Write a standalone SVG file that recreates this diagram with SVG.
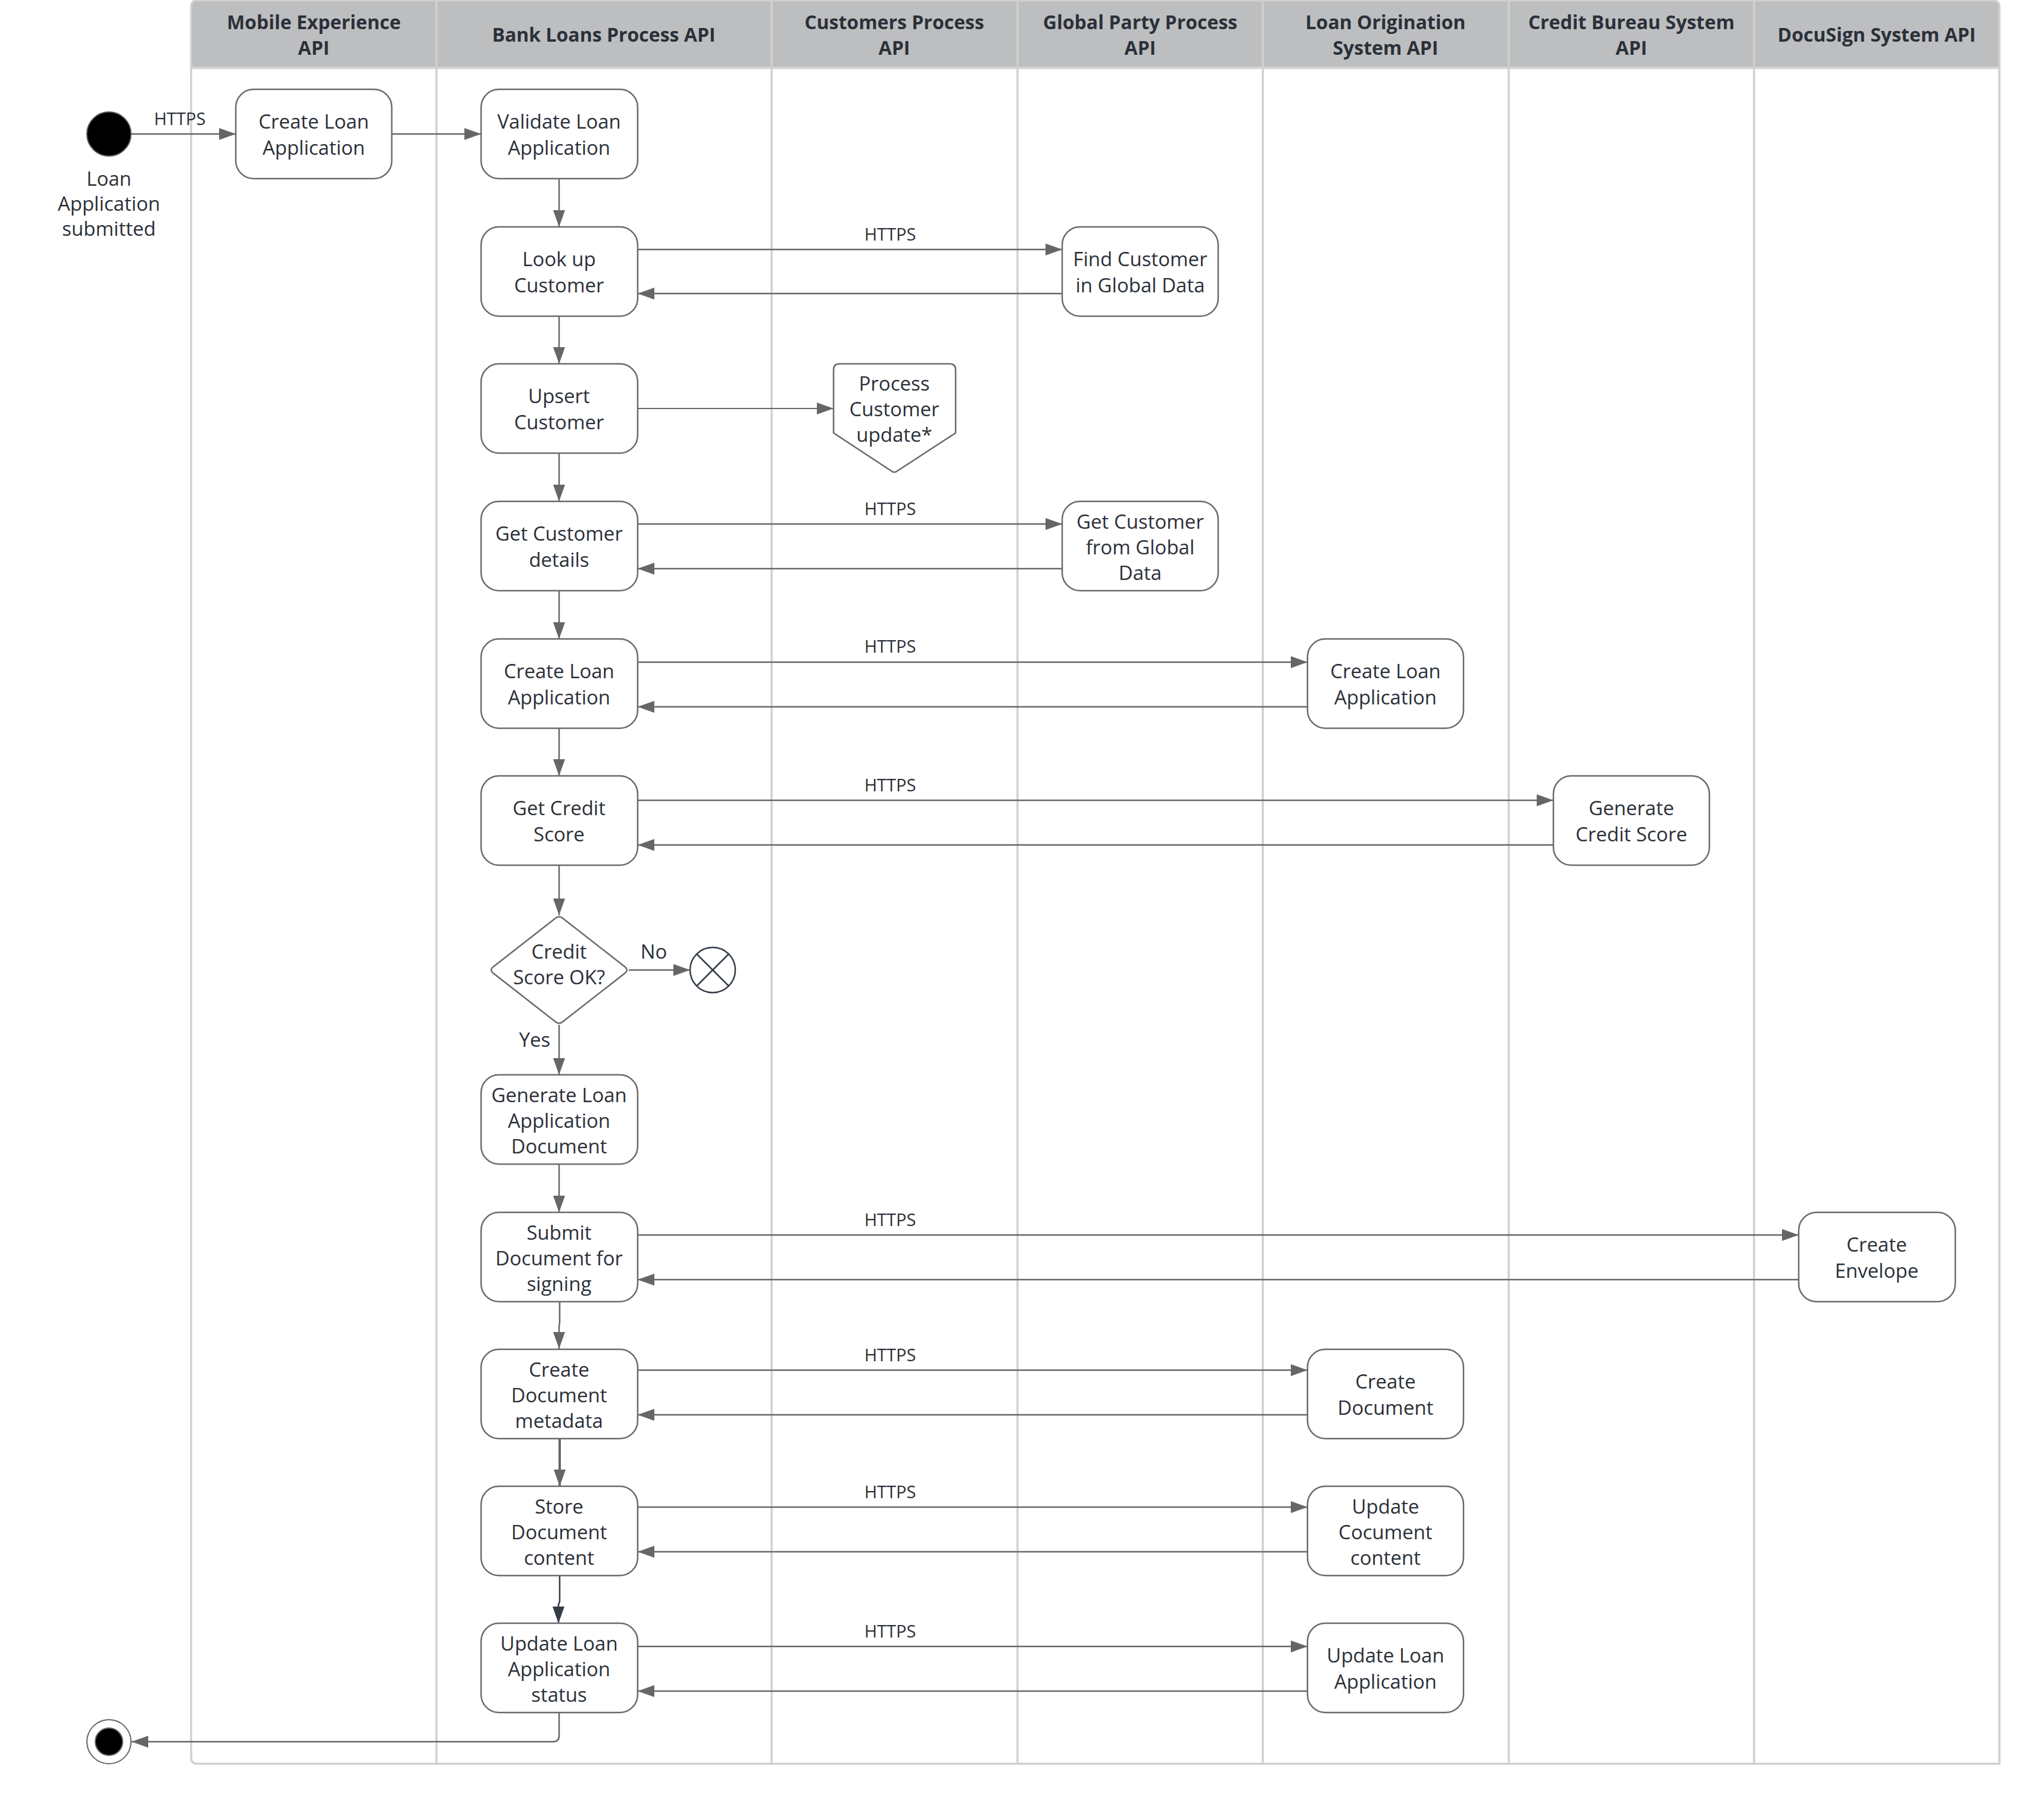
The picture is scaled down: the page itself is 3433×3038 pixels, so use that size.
<svg xmlns="http://www.w3.org/2000/svg" width="3433" height="3038" viewBox="0 0 3433 3038">
<style>
.lane{fill:none;stroke:#d0d0d0;stroke-width:3.5}
.div{stroke:#d0d0d0;stroke-width:3.5}
.hdr{fill:#bdbec0}
.ht{font-family:"Open Sans","Noto Sans",sans-serif;font-weight:700;font-size:32px;fill:#2b3038;text-anchor:middle;dominant-baseline:central}
.node{fill:#fff;stroke:#6a6a6a;stroke-width:2.5}
.t{font-family:"Open Sans","Noto Sans",sans-serif;font-size:33px;fill:#2b3038;text-anchor:middle;dominant-baseline:central}
.lbl{font-family:"Open Sans","Noto Sans",sans-serif;font-size:29px;fill:#2b3038;text-anchor:middle;dominant-baseline:central}
.c{fill:none;stroke:#666;stroke-width:2.5;marker-end:url(#ah)}
.cn{fill:none;stroke:#666;stroke-width:2.5}
</style>
<defs>
<marker id="ah" viewBox="0 0 28 20" refX="28" refY="10" markerWidth="28" markerHeight="20" markerUnits="userSpaceOnUse" orient="auto">
<path d="M0,0 L28,10 L0,20 Z" fill="#666"/>
</marker>
<marker id="ahd" viewBox="0 0 28 20" refX="28" refY="10" markerWidth="28" markerHeight="20" markerUnits="userSpaceOnUse" orient="auto">
<path d="M0,0 L28,10 L0,20 Z" fill="#333c48"/>
</marker>
</defs>
<rect width="3433" height="3038" fill="#fff"/>
<g id="swimlanes">
<path class="hdr" d="M321,114 V11 Q321,1 331,1 H3348 Q3358,1 3358,11 V114 Z"/>
<line x1="321" y1="114" x2="3358" y2="114" stroke="#d4d4d4" stroke-width="4"/>
<line class="div" x1="733" y1="1" x2="733" y2="2962"/>
<line class="div" x1="1296" y1="1" x2="1296" y2="2962"/>
<line class="div" x1="1709" y1="1" x2="1709" y2="2962"/>
<line class="div" x1="2121" y1="1" x2="2121" y2="2962"/>
<line class="div" x1="2534" y1="1" x2="2534" y2="2962"/>
<line class="div" x1="2946" y1="1" x2="2946" y2="2962"/>
<path class="lane" d="M331,1 H3348 Q3358,1 3358,11 V2962 H331 Q321,2962 321,2952 V11 Q321,1 331,1 Z"/>
<text class="ht" x="527" y="36">Mobile Experience</text>
<text class="ht" x="527" y="79">API</text>
<text class="ht" x="1014" y="57">Bank Loans Process API</text>
<text class="ht" x="1502" y="36">Customers Process</text>
<text class="ht" x="1502" y="79">API</text>
<text class="ht" x="1915" y="36">Global Party Process</text>
<text class="ht" x="1915" y="79">API</text>
<text class="ht" x="2327" y="36">Loan Origination</text>
<text class="ht" x="2327" y="79">System API</text>
<text class="ht" x="2740" y="36">Credit Bureau System</text>
<text class="ht" x="2740" y="79">API</text>
<text class="ht" x="3152" y="57">DocuSign System API</text>
</g>
<g id="connectors">
<path class="c" d="M220,225 H396"/>
<text class="lbl" x="302" y="198">HTTPS</text>
<path class="c" d="M658,225 H808"/>
<path class="c" d="M939,300 V381"/>
<path class="c" d="M939,531 V611"/>
<path class="c" d="M939,761 V842"/>
<path class="c" d="M939,992 V1073"/>
<path class="c" d="M939,1223 V1303"/>
<path class="c" d="M939,1453 V1537"/>
<path class="c" d="M939,1721 V1805"/>
<text class="t" x="898" y="1745">Yes</text>
<path class="c" d="M1056,1629 H1159"/>
<text class="t" x="1098" y="1597">No</text>
<path class="c" d="M939,1955 V2036"/>
<path class="c" d="M940,2186 V2220 Q940,2224 939,2226 V2265"/>
<path class="c" d="M940,2416 V2496" style="stroke-width:4"/>
<path d="M940,2646 V2688 Q940,2692 938,2694 V2726" fill="none" stroke="#333c48" stroke-width="2.5" marker-end="url(#ahd)"/>
<path class="c" d="M939,2876 V2915 Q939,2925 929,2925 H221"/>
<path class="c" d="M1071,419 H1784"/>
<path class="c" d="M1784,493 H1071"/>
<text class="lbl" x="1495" y="392">HTTPS</text>
<path class="c" d="M1071,686 H1400" style="stroke-width:2"/>
<path class="c" d="M1071,880 H1784"/>
<path class="c" d="M1784,955 H1071"/>
<text class="lbl" x="1495" y="853">HTTPS</text>
<path class="c" d="M1071,1112 H2196"/>
<path class="c" d="M2196,1187 H1071"/>
<text class="lbl" x="1495" y="1084">HTTPS</text>
<path class="c" d="M1071,1344 H2609"/>
<path class="c" d="M2609,1419 H1071"/>
<text class="lbl" x="1495" y="1317">HTTPS</text>
<path class="c" d="M1071,2074 H3021"/>
<path class="c" d="M3021,2149 H1071"/>
<text class="lbl" x="1495" y="2047">HTTPS</text>
<path class="c" d="M1071,2301 H2196"/>
<path class="c" d="M2196,2376 H1071"/>
<text class="lbl" x="1495" y="2274">HTTPS</text>
<path class="c" d="M1071,2531 H2196"/>
<path class="c" d="M2196,2606 H1071"/>
<text class="lbl" x="1495" y="2504">HTTPS</text>
<path class="c" d="M1071,2765 H2196"/>
<path class="c" d="M2196,2840 H1071"/>
<text class="lbl" x="1495" y="2738">HTTPS</text>
</g>
<g id="start">
<circle cx="183" cy="225" r="37" fill="#000" stroke="#555" stroke-width="2"/>
<text class="t" x="183" y="299">Loan</text>
<text class="t" x="183" y="341">Application</text>
<text class="t" x="183" y="383">submitted</text>
</g>
<g id="mobile-create-loan">
<rect class="node" x="396" y="150" width="262" height="150" rx="30"/>
<text class="t" x="527" y="203">Create Loan</text>
<text class="t" x="527" y="247">Application</text>
</g>
<g id="validate-loan">
<rect class="node" x="808" y="150" width="263" height="150" rx="30"/>
<text class="t" x="939" y="203">Validate Loan</text>
<text class="t" x="939" y="247">Application</text>
</g>
<g id="look-up-customer">
<rect class="node" x="808" y="381" width="263" height="150" rx="30"/>
<text class="t" x="939" y="434">Look up</text>
<text class="t" x="939" y="478">Customer</text>
</g>
<g id="upsert-customer">
<rect class="node" x="808" y="611" width="263" height="150" rx="30"/>
<text class="t" x="939" y="664">Upsert</text>
<text class="t" x="939" y="708">Customer</text>
</g>
<g id="get-customer-details">
<rect class="node" x="808" y="842" width="263" height="150" rx="30"/>
<text class="t" x="939" y="895">Get Customer</text>
<text class="t" x="939" y="939">details</text>
</g>
<g id="bank-create-loan">
<rect class="node" x="808" y="1073" width="263" height="150" rx="30"/>
<text class="t" x="939" y="1126">Create Loan</text>
<text class="t" x="939" y="1170">Application</text>
</g>
<g id="get-credit-score">
<rect class="node" x="808" y="1303" width="263" height="150" rx="30"/>
<text class="t" x="939" y="1356">Get Credit</text>
<text class="t" x="939" y="1400">Score</text>
</g>
<g id="credit-decision">
<path class="node" d="M933,1542 Q939,1537 945,1542 L1050,1624 Q1056,1629 1050,1634 L945,1716 Q939,1721 933,1716 L828,1634 Q822,1629 828,1624 Z"/>
<text class="t" x="939" y="1597">Credit</text>
<text class="t" x="939" y="1640">Score OK?</text>
</g>
<g id="flow-final">
<circle cx="1197" cy="1629" r="38" fill="#fff" stroke="#333c48" stroke-width="2.5"/>
<line x1="1170" y1="1602" x2="1224" y2="1656" stroke="#333c48" stroke-width="2.5"/>
<line x1="1224" y1="1602" x2="1170" y2="1656" stroke="#333c48" stroke-width="2.5"/>
</g>
<g id="generate-document">
<rect class="node" x="808" y="1805" width="263" height="150" rx="30"/>
<text class="t" x="939" y="1838">Generate Loan</text>
<text class="t" x="939" y="1881">Application</text>
<text class="t" x="939" y="1924">Document</text>
</g>
<g id="submit-document">
<rect class="node" x="808" y="2036" width="263" height="150" rx="30"/>
<text class="t" x="939" y="2069">Submit</text>
<text class="t" x="939" y="2112">Document for</text>
<text class="t" x="939" y="2155">signing</text>
</g>
<g id="create-metadata">
<rect class="node" x="808" y="2266" width="263" height="150" rx="30"/>
<text class="t" x="939" y="2299">Create</text>
<text class="t" x="939" y="2342">Document</text>
<text class="t" x="939" y="2385">metadata</text>
</g>
<g id="store-content">
<rect class="node" x="808" y="2496" width="263" height="150" rx="30"/>
<text class="t" x="939" y="2529">Store</text>
<text class="t" x="939" y="2572">Document</text>
<text class="t" x="939" y="2615">content</text>
</g>
<g id="update-status">
<rect class="node" x="808" y="2726" width="263" height="150" rx="30"/>
<text class="t" x="939" y="2759">Update Loan</text>
<text class="t" x="939" y="2802">Application</text>
<text class="t" x="939" y="2845">status</text>
</g>
<g id="end">
<circle cx="183" cy="2925" r="37" fill="#fff" stroke="#666" stroke-width="2"/>
<circle cx="183" cy="2925" r="23" fill="#000" stroke="#666" stroke-width="2"/>
</g>
<g id="process-customer-update">
<path class="node" d="M1400,621 Q1400,611 1410,611 H1595 Q1605,611 1605,621 V727 L1507,791 Q1502,795 1497,791 L1400,727 Z"/>
<text class="t" x="1502" y="643">Process</text>
<text class="t" x="1502" y="686">Customer</text>
<text class="t" x="1502" y="729">update*</text>
</g>
<g id="find-customer">
<rect class="node" x="1784" y="381" width="262" height="150" rx="30"/>
<text class="t" x="1915" y="434">Find Customer</text>
<text class="t" x="1915" y="478">in Global Data</text>
</g>
<g id="get-customer-global">
<rect class="node" x="1784" y="842" width="262" height="150" rx="30"/>
<text class="t" x="1915" y="875">Get Customer</text>
<text class="t" x="1915" y="918">from Global</text>
<text class="t" x="1915" y="961">Data</text>
</g>
<g id="los-create-loan">
<rect class="node" x="2196" y="1073" width="262" height="150" rx="30"/>
<text class="t" x="2327" y="1126">Create Loan</text>
<text class="t" x="2327" y="1170">Application</text>
</g>
<g id="generate-credit-score">
<rect class="node" x="2609" y="1303" width="262" height="150" rx="30"/>
<text class="t" x="2740" y="1356">Generate</text>
<text class="t" x="2740" y="1400">Credit Score</text>
</g>
<g id="create-envelope">
<rect class="node" x="3021" y="2036" width="263" height="150" rx="30"/>
<text class="t" x="3152" y="2089">Create</text>
<text class="t" x="3152" y="2133">Envelope</text>
</g>
<g id="create-document">
<rect class="node" x="2196" y="2266" width="262" height="150" rx="30"/>
<text class="t" x="2327" y="2319">Create</text>
<text class="t" x="2327" y="2363">Document</text>
</g>
<g id="update-document-content">
<rect class="node" x="2196" y="2496" width="262" height="150" rx="30"/>
<text class="t" x="2327" y="2529">Update</text>
<text class="t" x="2327" y="2572">Cocument</text>
<text class="t" x="2327" y="2615">content</text>
</g>
<g id="los-update-loan">
<rect class="node" x="2196" y="2726" width="262" height="150" rx="30"/>
<text class="t" x="2327" y="2779">Update Loan</text>
<text class="t" x="2327" y="2823">Application</text>
</g>
</svg>
